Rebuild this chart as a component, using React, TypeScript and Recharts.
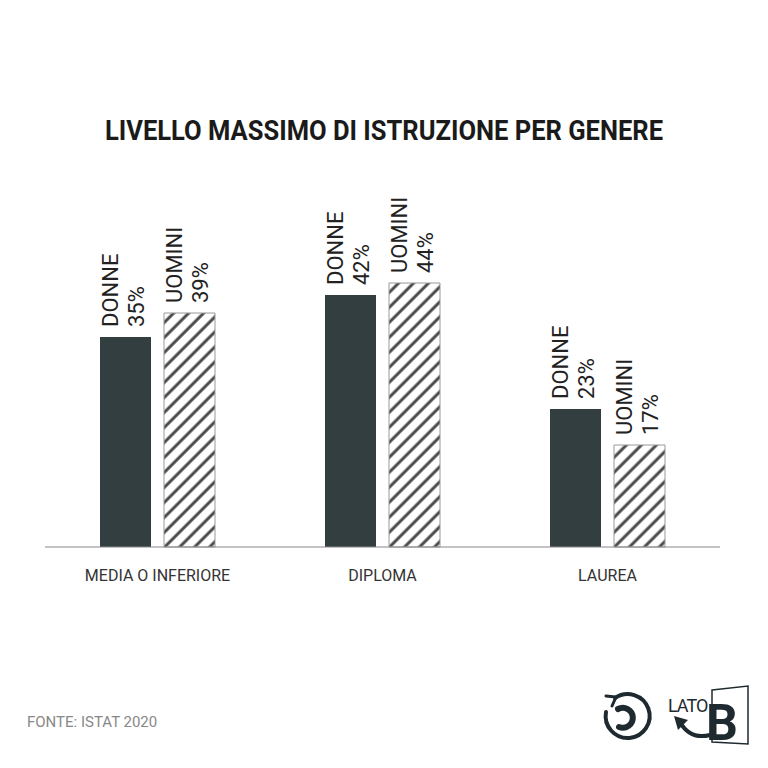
import React from "react";
import { BarChart, Bar, XAxis, YAxis, LabelList } from "recharts";

const categories = ["MEDIA O INFERIORE", "DIPLOMA", "LAUREA"];
const donne = [35, 42, 23];
const uomini = [39, 44, 17];
const seriesNames = ["DONNE", "UOMINI"];

const data = categories.map((c, i) => ({ name: c, donne: donne[i], uomini: uomini[i] }));

const FONT = "Roboto, 'Noto Sans', sans-serif";

function makeLabel(series: string) {
  return (props: any) => {
    const { x, y, width, value } = props;
    const cx = x + width / 2;
    return (
      <text
        transform={`translate(${cx},${y - 10}) rotate(-90)`}
        fontFamily={FONT}
        fontSize={22}
        fill="#222"
      >
        <tspan x={0} y={-8}>{series}</tspan>
        <tspan x={0} y={18}>{value}%</tspan>
      </text>
    );
  };
}

const CategoryTick = (props: any) => {
  const { x, y, payload } = props;
  return (
    <text x={x} y={y + 34} textAnchor="middle" fontFamily={FONT} fontSize={16} fill="#333">
      {payload.value}
    </text>
  );
};

export default function App() {
  return (
    <div style={{ position: "absolute", left: 0, top: 0, width: 768, height: 768, background: "#fff" }}>
      <BarChart
        width={768}
        height={768}
        data={data}
        margin={{ top: 247, right: 48, left: 45, bottom: 191 }}
        barSize={51}
        barGap={13}
      >
        <defs>
          <pattern
            id="hatch"
            patternUnits="userSpaceOnUse"
            width={10.6}
            height={10.6}
            patternTransform="rotate(45)"
          >
            <rect width={10.6} height={10.6} fill="#fff" />
            <line x1={5} y1={0} x2={5} y2={10.6} stroke="#4a4a4a" strokeWidth={3} />
          </pattern>
        </defs>
        <XAxis
          dataKey="name"
          height={30}
          tickLine={false}
          tickSize={0}
          tickMargin={0}
          axisLine={{ stroke: "#888", strokeWidth: 1 }}
          tick={<CategoryTick />}
        />
        <YAxis hide domain={[0, 50]} />
        <Bar dataKey="donne" fill="#323e40" isAnimationActive={false}>
          <LabelList dataKey="donne" content={makeLabel(seriesNames[0])} />
        </Bar>
        <Bar dataKey="uomini" fill="url(#hatch)" stroke="#999" strokeWidth={1} isAnimationActive={false}>
          <LabelList dataKey="uomini" content={makeLabel(seriesNames[1])} />
        </Bar>
      </BarChart>
      <svg
        width={768}
        height={768}
        style={{ position: "absolute", left: 0, top: 0, pointerEvents: "none" }}
      >
        <text
          x={384}
          y={140}
          textAnchor="middle"
          fontFamily={FONT}
          fontWeight={700}
          fontSize={27}
          fill="#1a1a1a"
          textLength={558}
          lengthAdjust="spacingAndGlyphs"
        >
          LIVELLO MASSIMO DI ISTRUZIONE PER GENERE
        </text>
        <text x={27} y={727} fontFamily={FONT} fontSize={15} fill="#888">
          FONTE: ISTAT 2020
        </text>
        <g stroke="#1f2a30" fill="none" strokeWidth={4} strokeLinecap="round">
          <path d="M 615 698 A 22 22 0 1 1 606 712" />
          <path d="M 606 696 L 616 697 L 612 706" strokeWidth={3} />
          <path d="M 618 709 A 10 10 0 1 1 619 727" strokeWidth={6} />
        </g>
        <text x={668} y={712} fontFamily={FONT} fontSize={18} fill="#1f2a30" letterSpacing={-1}>
          LATO
        </text>
        <path d="M 712 690 L 748 686 L 748 744 L 712 742 Z" fill="none" stroke="#1f2a30" strokeWidth={1.5} />
        <text x={706} y={740} fontFamily={FONT} fontSize={50} fontWeight={700} fill="#1f2a30">
          B
        </text>
        <path d="M 710 735 Q 690 740 680 722" fill="none" stroke="#1f2a30" strokeWidth={4} />
        <path d="M 674 716 L 688 720 L 678 730 Z" fill="#1f2a30" />
      </svg>
    </div>
  );
}
